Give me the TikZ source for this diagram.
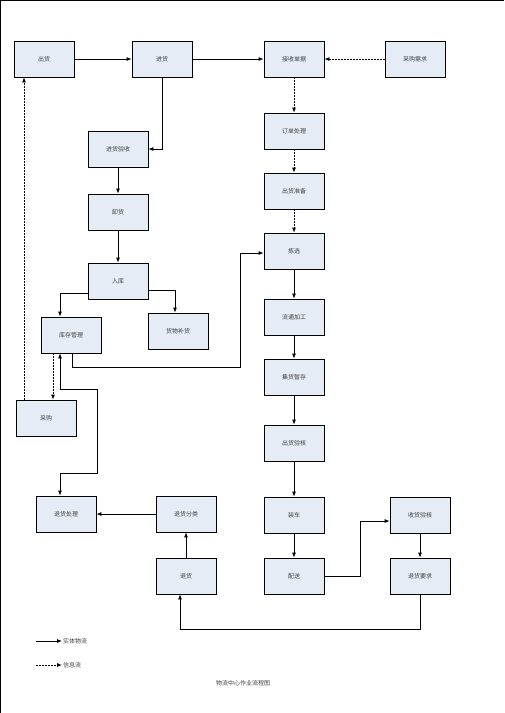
\documentclass[tikz,border=0pt]{standalone}
\usepackage{fontspec}
\newfontfamily\cjk{Noto Sans CJK SC}
\usepackage{tikz}
\usetikzlibrary{arrows.meta}
\usetikzlibrary{calc}

\tikzset{
  box/.style={draw, line width=0.8pt, fill=boxfill, minimum width=60pt, minimum height=36pt, inner sep=0pt, font=\cjk\fontsize{6}{7}\selectfont, text=black!75},
  wu/.style={draw, line width=0.8pt, -{Latex[length=5pt,width=4pt]}},
  xin/.style={wu, dash pattern=on 2pt off 1pt},
}
\definecolor{boxfill}{HTML}{E6ECF6}

\begin{document}
\begin{tikzpicture}[x=1pt, y=-1pt]
            \useasboundingbox (0,0) rectangle (504,713);
            \draw[line width=1pt] (0,0.5) -- (504,0.5) (0.5,0) -- (0.5,713);
            % boxes
            \node[box] (chuhuo) at (44,59) {出货};
            \node[box] (jinhuo) at (162,59) {进货};
            \node[box] (jieshou) at (294,59) {接收单据};
            \node[box] (xuqiu) at (415,59) {采购需求};
            \node[box] (dingdan) at (294,131) {订单处理};
            \node[box] (yanshou) at (118,149) {进货验收};
            \node[box] (zhunbei) at (294,191) {出货准备};
            \node[box] (xiehuo) at (118,212) {卸货};
            \node[box] (jianxuan) at (294,251) {拣选};
            \node[box] (ruku) at (118,281) {入库};
            \node[box] (liutong) at (294,317) {流通加工};
            \node[box] (kucun) at (71,335) {库存管理};
            \node[box] (buhuo) at (178,331) {货物补货};
            \node[box] (jihuo) at (294,377) {集货暂存};
            \node[box] (caigou) at (46,418) {采购};
            \node[box] (yanhe) at (294,443) {出货验核};
            \node[box] (thchuli) at (66,514) {退货处理};
            \node[box] (thfenlei) at (186,514) {退货分类};
            \node[box] (zhuangche) at (294,515) {装车};
            \node[box] (shouhuo) at (420,515) {收货验核};
            \node[box] (tuihuo) at (186,576) {退货};
            \node[box] (peisong) at (294,576) {配送};
            \node[box] (thyaoqiu) at (420,576) {退货要求};
            % turning points
            \coordinate (k1) at (240,367);
            \coordinate (t1) at (60,389);
            \coordinate (t2) at (97,389);
            \coordinate (t3) at (97,473);
            \coordinate (t4) at (60,473);
            \coordinate (p1) at (360,576);
            \coordinate (r1) at (420,629);
            % solid flow
            \draw[wu] (chuhuo) -- (jinhuo);
            \draw[wu] (jinhuo) -- (jieshou);
            \draw[wu] (jinhuo.south) |- (yanshou.east);
            \draw[wu] (yanshou) -- (xiehuo);
            \draw[wu] (xiehuo) -- (ruku);
            \draw[wu] ([yshift=-12pt]ruku.west) -| ([xshift=-11pt]kucun.north);
            \draw[wu] ([yshift=-9pt]ruku.east) -| ([xshift=-3pt]buhuo.north);
            \draw[wu] ([xshift=1pt]kucun.south) |- (k1) |- ([yshift=-2pt]jianxuan.west);
            \draw[wu] (jianxuan) -- (liutong);
            \draw[wu] (liutong) -- (jihuo);
            \draw[wu] (jihuo) -- (yanhe);
            \draw[wu] (yanhe) -- (zhuangche);
            \draw[wu] (zhuangche) -- (peisong);
            \draw[wu] (peisong.east) -- (p1) |- ([yshift=-6pt]shouhuo.west);
            \draw[wu] (shouhuo) -- (thyaoqiu);
            \draw[wu] (thyaoqiu.south) -- (r1) -| ([xshift=-6pt]tuihuo.south);
            \draw[wu] (tuihuo) -- (thfenlei);
            \draw[wu] (thfenlei) -- (thchuli);
            \draw[wu, {Latex[length=5pt,width=4pt]}-{Latex[length=5pt,width=4pt]}] ([xshift=-11pt]kucun.south) -- (t1) -- (t2) -- (t3) -- (t4) -- ([xshift=-6pt]thchuli.north);
            % information flow
            \draw[xin] (xuqiu) -- (jieshou);
            \draw[xin] (jieshou) -- (dingdan);
            \draw[xin] (dingdan) -- (zhunbei);
            \draw[xin] (zhunbei) -- (jianxuan);
            \draw[xin] ([xshift=-18pt]kucun.south) -- ([xshift=-18pt]kucun.south |- caigou.north);
            \draw[xin] ([xshift=-22pt]caigou.north) -- ([xshift=-22pt]caigou.north |- chuhuo.south);
            % legend
            \coordinate (lgA) at (36,641);
            \node[anchor=west, inner sep=1pt, font=\cjk\fontsize{6}{7}\selectfont, text=black!75] (lgB) at (62,641) {实体物流};
            \draw[wu] (lgA) -- (lgB.west);
            \coordinate (lgC) at (36,665);
            \node[anchor=west, inner sep=1pt, font=\cjk\fontsize{6}{7}\selectfont, text=black!75] (lgD) at (62,665) {信息流};
            \draw[xin] (lgC) -- (lgD.west);
            \node[font=\cjk\fontsize{6}{7}\selectfont, text=black!75] (title) at (243,683) {物流中心作业流程图};
        \end{tikzpicture}
\end{document}
